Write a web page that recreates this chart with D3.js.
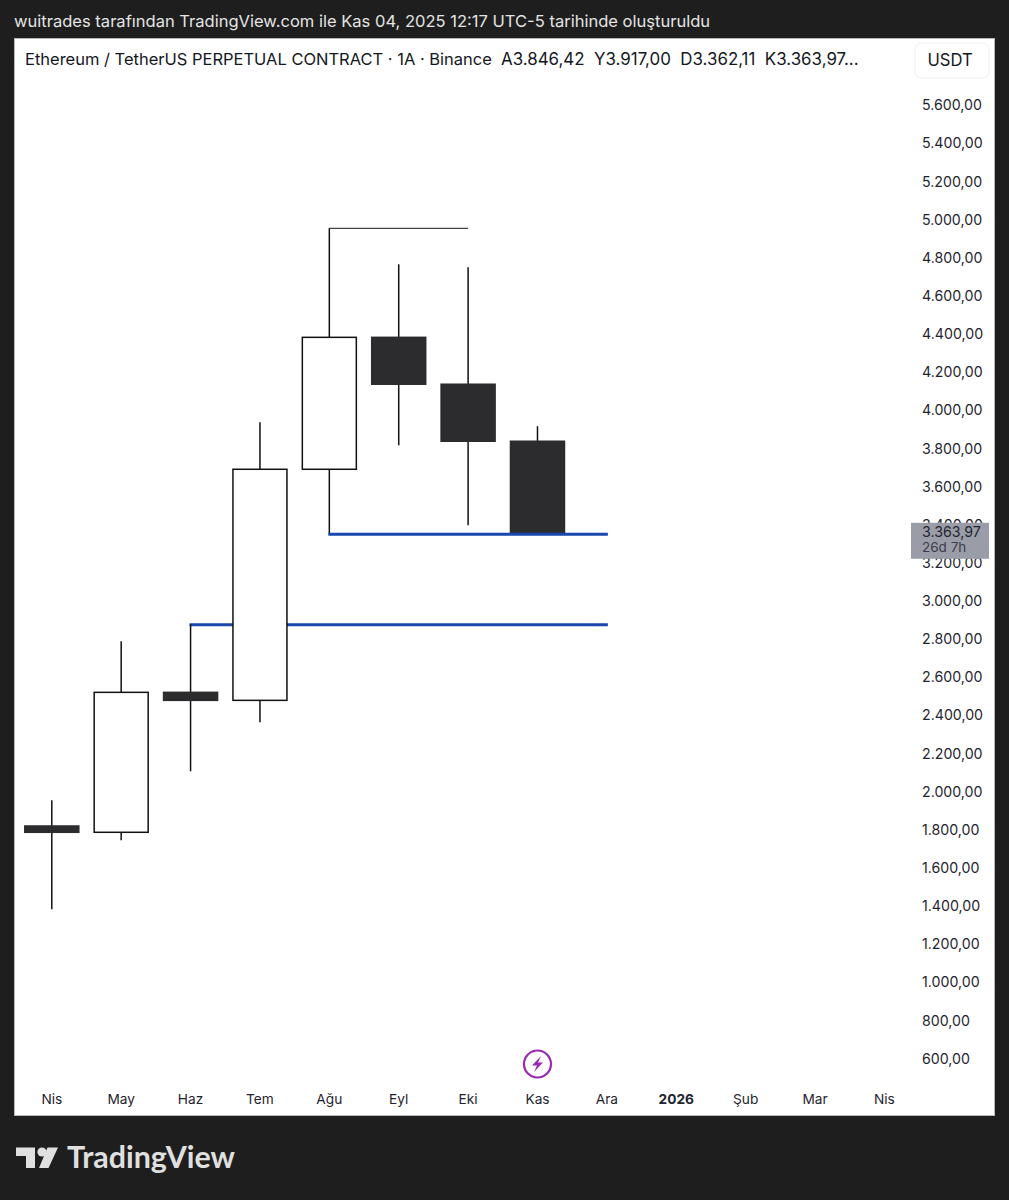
<!DOCTYPE html>
<html><head><meta charset="utf-8">
<script src="https://cdnjs.cloudflare.com/ajax/libs/d3/7.8.5/d3.min.js"></script>
<style>html,body{margin:0;padding:0;background:#1e1e1e}svg{display:block}text{font-family:Inter,"Noto Sans",sans-serif}</style>
</head><body><svg id="c" width="1009" height="1200"></svg>
<script>
const months=["Nis","May","Haz","Tem","Ağu","Eyl","Eki","Kas","Ara","2026","Şub","Mar","Nis "];
const candleMonths=["Nis","May","Haz","Tem","Ağu","Eyl","Eki","Kas"];
const opens=[1820,1787,2521,2479,3691,4383,4137,3838];
const highs=[1955,2789,2878,3937,4955,4766,4750,3917];
const lows=[1383,1745,2107,2364,3350,3817,3397,3350];
const closes=[1787,2521,2479,3691,4383,4137,3838,3350];
const priceTicks=d3.range(600,5601,200);
const levels=[{month:"Ağu",end:"Ara",price:3350,color:"#1a47ad"},{month:"Haz",end:"Ara",price:2875,color:"#1a47ad"}];
const highRay={month:"Ağu",end:"Eki",price:4955};
const title="wuitrades tarafından TradingView.com ile Kas 04, 2025 12:17 UTC-5 tarihinde oluşturuldu";
const legendName="Ethereum / TetherUS PERPETUAL CONTRACT · 1A · Binance";
const legendValues=["A3.846,42","Y3.917,00","D3.362,11","K3.363,97..."];
const lastPriceText="3.363,97";
const countdownText="26d 7h";

const svg=d3.select("#c");
const x=d3.scalePoint().domain(months).range([51.8,884.4]);
const y=d3.scaleLinear().domain([600,5600]).range([1058.6,105.3]);
const fmt=d3.formatLocale({decimal:",",thousands:".",grouping:[3],currency:["",""]}).format(",.2f");
const bw=54, ink="#131722", dark="#2c2c2e";

svg.append("rect").attr("width",1009).attr("height",1200).attr("fill","#1e1e1e");
svg.append("text").attr("x",14).attr("y",27).attr("fill","#e4e4e4").attr("font-size",16.55).text(title);
svg.append("rect").attr("x",14.5).attr("y",38.5).attr("width",980).attr("height",1077).attr("fill","#fff").attr("stroke","#b8b8b8");

svg.append("text").attr("x",25).attr("y",65).attr("fill",ink).attr("font-size",16.49).text(legendName);
svg.append("text").attr("x",501).attr("y",65).attr("fill",ink).attr("font-size",16.9).style("white-space","pre").text(legendValues.join("  "));
svg.append("rect").attr("x",915).attr("y",43).attr("width",74).attr("height",35).attr("rx",6).attr("fill","#fff").attr("stroke","#f0f0f0");
svg.append("text").attr("x",950).attr("y",66).attr("text-anchor","middle").attr("fill",ink).attr("font-size",16.6).text("USDT");

// axes
const ay=svg.append("g").attr("transform","translate(922,0)").call(d3.axisRight(y).tickValues(priceTicks).tickFormat(fmt).tickSize(0).tickPadding(0));
ay.select(".domain").remove();
ay.selectAll("text").attr("font-size",14.2).attr("fill","#1f2430").attr("text-anchor","start").style("font-family","Inter");
const ax=svg.append("g").attr("transform","translate(-0.5,1094.2)").call(d3.axisBottom(x).tickFormat(d=>d.trim()).tickSize(0).tickPadding(0));
ax.select(".domain").remove();
ax.selectAll("text").attr("font-size",13.7).attr("fill","#1f2430").attr("dy","0.71em").style("font-family","Inter").attr("font-weight",d=>d==="2026"?700:400);

// levels and rays
const lev=svg.append("g");
lev.append("path").attr("d",`M${x(highRay.month)},${y(highRay.price)}H${x(highRay.end)}`).attr("stroke","#444").attr("stroke-width",1.3).attr("fill","none");

// candles
const data=candleMonths.map((m,i)=>({m,o:opens[i],h:highs[i],l:lows[i],c:closes[i]}));
levels.filter(l=>l.price<3000).forEach(l=>{
  lev.append("path").attr("d",`M${x(l.month)-1},${y(l.price)}H${x(l.end)+1}`).attr("stroke",l.color).attr("stroke-width",3).attr("fill","none");
});
const g=svg.append("g").selectAll("g").data(data).join("g");
g.append("line").attr("x1",d=>x(d.m)).attr("x2",d=>x(d.m)).attr("y1",d=>y(d.h)).attr("y2",d=>y(d.l)).attr("stroke","#111").attr("stroke-width",1.5);
g.append("rect").attr("x",d=>x(d.m)-bw/2).attr("width",bw)
 .attr("y",d=>y(Math.max(d.o,d.c))).attr("height",d=>y(Math.min(d.o,d.c))-y(Math.max(d.o,d.c)))
 .attr("fill",d=>d.c>=d.o?"#fff":dark).attr("stroke",d=>d.c>=d.o?"#111":dark).attr("stroke-width",1.5);
levels.filter(l=>l.price>=3000).forEach(l=>{
  svg.append("path").attr("d",`M${x(l.month)-1},${y(l.price)}H${x(l.end)+1}`).attr("stroke",l.color).attr("stroke-width",3).attr("fill","none");
});

// price label
const lastY=y(closes[closes.length-1]);
svg.append("rect").attr("x",911).attr("y",lastY-11.5).attr("width",78).attr("height",36).attr("fill","#9a9ca8");
svg.append("text").attr("x",922).attr("y",lastY+2.5).attr("font-size",14.2).attr("fill","#1f2430").text(lastPriceText);
svg.append("text").attr("x",922).attr("y",lastY+18).attr("font-size",13.5).attr("fill","#3a3d4a").text(countdownText);

// event icon
const ic=svg.append("g").attr("transform",`translate(${x("Kas")},1064)`);
ic.append("circle").attr("r",13.5).attr("fill","#fff").attr("stroke","#9c27b0").attr("stroke-width",2.2);
ic.append("path").attr("d","M3.5,-8 L-5.5,1.5 L-0.5,1.5 L-3.5,8 L5.5,-1.5 L0.5,-1.5 Z").attr("fill","#9c27b0");

// logo
const lg=svg.append("g").attr("fill","#e0e0e0");
lg.append("path").attr("d","M16,1147.5H35V1168H26V1156H16Z");
lg.append("circle").attr("cx",42).attr("cy",1152).attr("r",4.6);
lg.append("path").attr("d","M47.5,1147.5H58L48.5,1168H39Z");
lg.append("text").attr("x",67).attr("y",1168).attr("font-size",30.4).attr("font-weight",700).style("font-family","Lato").text("TradingView");
</script></body></html>
